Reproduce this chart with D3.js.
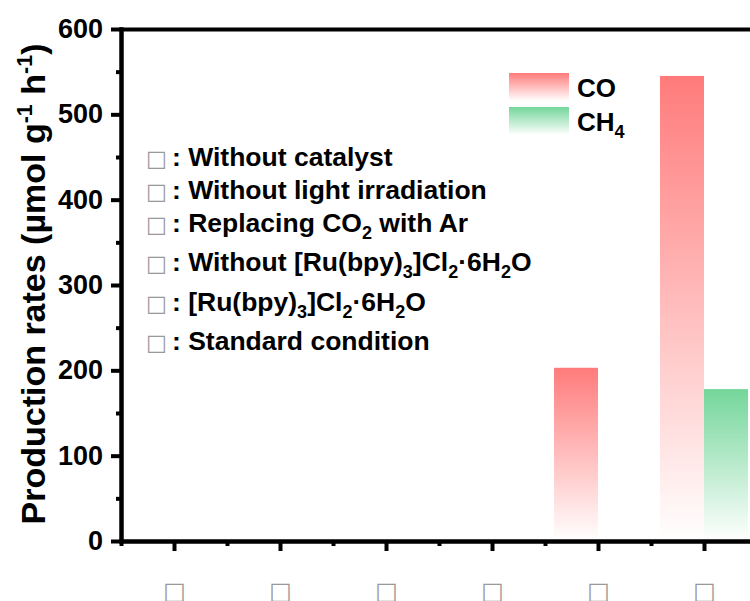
<!DOCTYPE html>
<html>
<head>
<meta charset="utf-8">
<script src="https://cdn.jsdelivr.net/npm/d3@7"></script>
<style>
  body { margin: 0; background: #fff; }
  svg { display: block; font-family: "Liberation Sans", Arial, sans-serif; font-weight: bold; }
</style>
</head>
<body>
<svg id="chart" width="750" height="601"></svg>
<script>
// data
const categories = [1, 2, 3, 4, 5, 6];
const xLabels = ['\u25A1', '\u25A1', '\u25A1', '\u25A1', '\u25A1', '\u25A1'];
const coValues = [0, 0, 0, 0, 203, 545];
const ch4Values = [0, 0, 0, 0, 0, 178];
const yTicks = [0, 100, 200, 300, 400, 500, 600];
const yMinor = [50, 150, 250, 350, 450, 550];
const xMinor = [0.5, 1.5, 2.5, 3.5, 4.5, 5.5, 6.5];
// condition list: [text, isSubscript] pieces
const conditions = [
  [[': Without catalyst', false]],
  [[': Without light irradiation', false]],
  [[': Replacing CO', false], ['2', true], [' with Ar', false]],
  [[': Without [Ru(bpy)', false], ['3', true], [']Cl', false], ['2', true], ['\u00B76H', false], ['2', true], ['O', false]],
  [[': [Ru(bpy)', false], ['3', true], [']Cl', false], ['2', true], ['\u00B76H', false], ['2', true], ['O', false]],
  [[': Standard condition', false]]
];

const svg = d3.select('#chart');
const margin = { top: 29, left: 121 };

const x = d3.scaleLinear().domain([0.5, 6.5]).range([margin.left, 757]);
const y = d3.scaleLinear().domain([0, 600]).range([541, margin.top]);
const barW = 0.415;

const defs = svg.append('defs');
const grad = (id, color) => {
  const g = defs.append('linearGradient').attr('id', id)
    .attr('x1', 0).attr('y1', 0).attr('x2', 0).attr('y2', 1);
  g.append('stop').attr('offset', '0%').attr('stop-color', color).attr('stop-opacity', 1);
  g.append('stop').attr('offset', '100%').attr('stop-color', color).attr('stop-opacity', 0);
};
grad('gCO', '#ff7b7b');
grad('gCH4', '#74d69a');

// bars
svg.append('g')
  .selectAll('rect')
  .data(categories.filter((d, i) => coValues[i] > 0))
  .join('rect')
  .attr('x', d => x(d - barW))
  .attr('y', d => y(coValues[d - 1]))
  .attr('width', d => x(d) - x(d - barW))
  .attr('height', d => y(0) - y(coValues[d - 1]))
  .attr('fill', 'url(#gCO)');

svg.append('g')
  .selectAll('rect')
  .data(categories.filter((d, i) => ch4Values[i] > 0))
  .join('rect')
  .attr('x', d => x(d))
  .attr('y', d => y(ch4Values[d - 1]))
  .attr('width', d => x(d + barW) - x(d))
  .attr('height', d => y(0) - y(ch4Values[d - 1]))
  .attr('fill', 'url(#gCH4)');

const styleAxis = g => {
  g.select('.domain').attr('stroke-width', 4).attr('stroke-linecap', 'square');
  g.selectAll('.tick line').attr('stroke-width', 4);
};

// y axis
svg.append('g')
  .attr('transform', `translate(${margin.left},0)`)
  .call(d3.axisLeft(y).tickValues(yMinor).tickSize(5).tickFormat('').tickSizeOuter(0))
  .call(styleAxis);
svg.append('g')
  .attr('transform', `translate(${margin.left},0)`)
  .call(d3.axisLeft(y).tickValues(yTicks).tickSize(10).tickPadding(8).tickSizeOuter(0))
  .call(styleAxis)
  .selectAll('text')
  .attr('font-size', 27).attr('font-family', '"Liberation Sans", Arial, sans-serif')
  .attr('font-weight', 'bold').attr('fill', '#000');

// x axis
svg.append('g')
  .attr('transform', `translate(0,${y(0)})`)
  .call(d3.axisBottom(x).tickValues(xMinor).tickSize(5).tickFormat('').tickSizeOuter(0))
  .call(styleAxis);
svg.append('g')
  .attr('transform', `translate(0,${y(0)})`)
  .call(d3.axisBottom(x).tickValues(categories).tickSize(10).tickPadding(31)
    .tickFormat(d => xLabels[d - 1]).tickSizeOuter(0))
  .call(styleAxis)
  .selectAll('text')
  .attr('font-size', 24).attr('font-family', '"DejaVu Sans", sans-serif')
  .attr('font-weight', 'normal').attr('fill', '#999');

// top frame
svg.append('g')
  .attr('transform', `translate(0,${y(600)})`)
  .call(d3.axisTop(x).tickValues([]).tickSizeOuter(0))
  .call(styleAxis);

// y axis title
const yt = svg.append('text')
  .attr('transform', 'translate(45,284) rotate(-90)')
  .attr('text-anchor', 'middle')
  .attr('font-size', 34);
yt.append('tspan').text('Production rates (\u00B5mol g');
yt.append('tspan').attr('font-size', 21.5).attr('dy', -13).text('-1');
yt.append('tspan').attr('dy', 13).text(' h');
yt.append('tspan').attr('font-size', 21.5).attr('dy', -13).text('-1');
yt.append('tspan').attr('dy', 13).text(')');

// condition list
const rowY = [166, 199, 232, 271, 311, 350];
const list = svg.append('g');
conditions.forEach((parts, i) => {
  list.append('text')
    .attr('x', 146).attr('y', rowY[i])
    .attr('font-family', '"DejaVu Sans", sans-serif')
    .attr('font-weight', 'normal').attr('font-size', 22).attr('fill', '#999')
    .text('\u25A1');
  const t = list.append('text').attr('x', 172).attr('y', rowY[i]).attr('font-size', 26.5);
  let sub = false;
  parts.forEach(([s, isSub]) => {
    const dy = isSub && !sub ? 7 : (!isSub && sub ? -7 : 0);
    t.append('tspan').attr('dy', dy).attr('font-size', isSub ? 18 : 26.5).text(s);
    sub = isSub;
  });
});

// series legend
const legend = [
  { name: 'CO', sub: '', fill: 'url(#gCO)', y: 73 },
  { name: 'CH', sub: '4', fill: 'url(#gCH4)', y: 107 }
];
const lg = svg.append('g');
lg.selectAll('rect').data(legend).join('rect')
  .attr('x', 509).attr('y', d => d.y).attr('width', 60).attr('height', 28)
  .attr('fill', d => d.fill);
legend.forEach(d => {
  const t = lg.append('text').attr('x', 577).attr('y', d.y + 24).attr('font-size', 26);
  t.append('tspan').text(d.name);
  if (d.sub) t.append('tspan').attr('font-size', 18).attr('dy', 7).text(d.sub);
});
</script>
</body>
</html>
